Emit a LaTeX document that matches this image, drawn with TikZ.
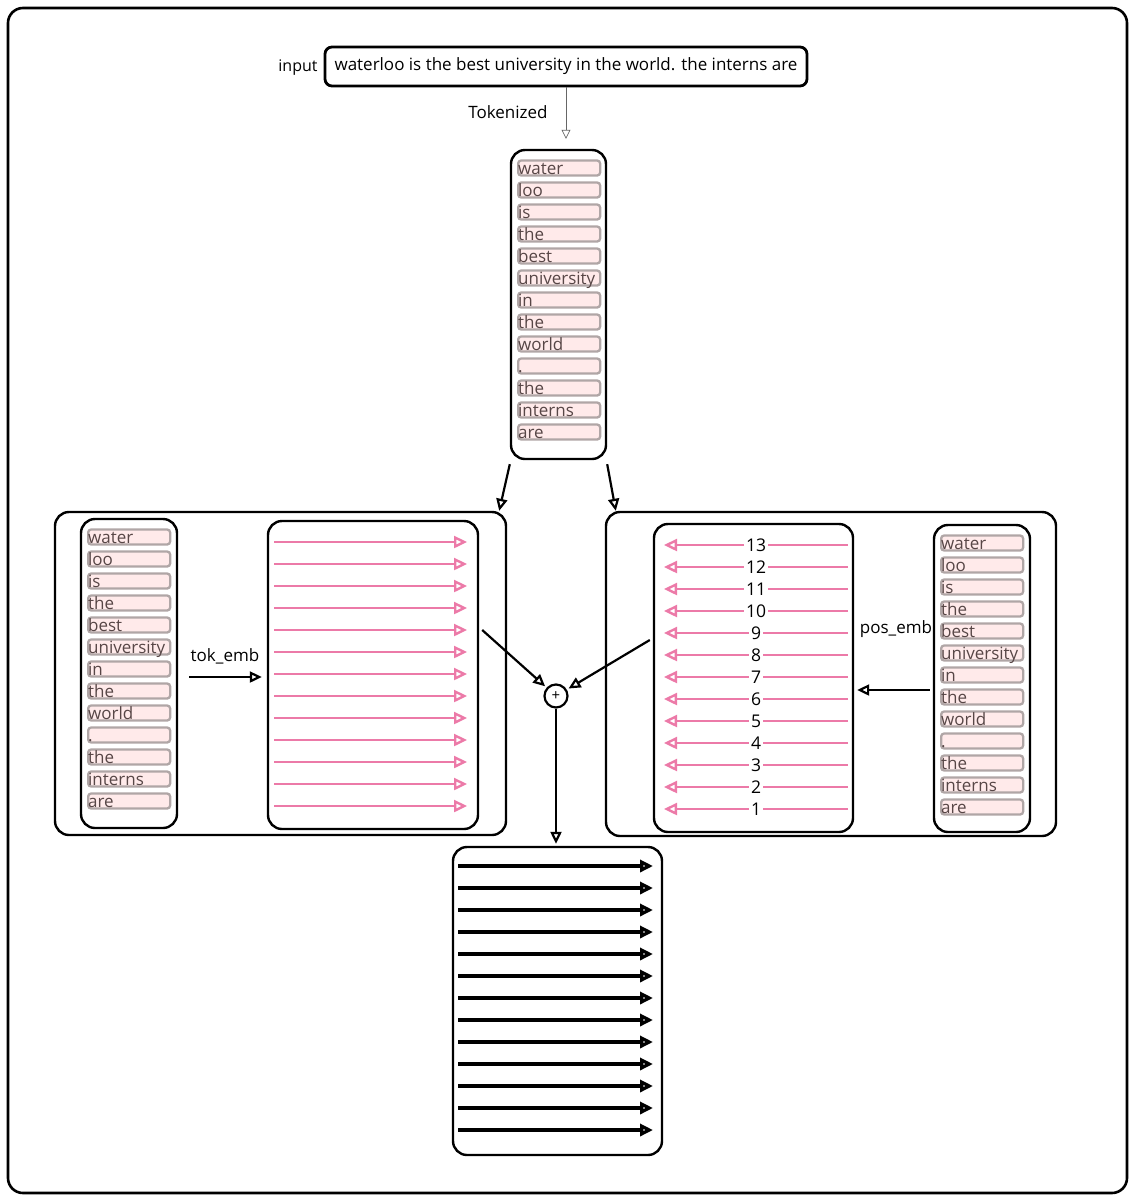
\documentclass[tikz,border=0pt]{standalone}
\usepackage{fontspec}
\setmainfont{Open Sans}
\usetikzlibrary{arrows.meta,positioning}

\definecolor{pinkline}{HTML}{EC7AA8}
\definecolor{tokfill}{HTML}{FFEAEA}
\definecolor{tokedge}{HTML}{B0A6A6}
\definecolor{toktext}{HTML}{574646}

\tikzset{
  panel/.style={draw=black,line width=2.4pt,rounded corners=14pt,inner sep=0pt},
  tok/.style={draw=tokedge,fill=tokfill,line width=2.3pt,rounded corners=3pt,anchor=west,
    minimum width=81pt,minimum height=15pt,inner sep=0pt,text width=82pt,align=left,
    text height=12.5pt,text depth=0pt,text=toktext,font=\fontsize{17}{17}\selectfont},
  arr/.style={-{Triangle[open,length=12pt,width=11pt]},line width=2.2pt},
  pinkarr/.style={-{Triangle[open,length=13pt,width=12pt]},line width=2.4pt,draw=pinkline},
  thickarr/.style={-{Triangle[open,length=13pt,width=12pt]},line width=3.8pt},
  lbl/.style={font=\fontsize{17}{19}\selectfont,inner sep=1pt}
}

\begin{document}
\begin{tikzpicture}[x=1pt,y=-1pt]
\useasboundingbox (0,0) rectangle (1134,1200);
\draw[line width=2.6pt,rounded corners=15pt] (8,8) rectangle (1127,1193);

% input text and tokens
\node[panel,rounded corners=7pt,line width=2.8pt,minimum width=482pt,minimum height=39pt,
  font=\fontsize{17}{19}\selectfont] (inbox) at (566,66.5)
  {waterloo is the best university in the world. the interns are};
\node[lbl,font=\fontsize{16}{18}\selectfont] (inlbl) at (298,68) {input};
\node[panel] (tokbox) at (558.5,304.5) [minimum width=95pt,minimum height=309pt] {};
\draw[-{Triangle[open,length=9pt,width=9pt]},line width=0.7pt,draw=black!60,shorten >=10pt]
  (inbox.south) -- (inbox.south |- tokbox.north);
\node[lbl] (toklbl) at (508,112) {Tokenized};

% the two embedding panels
\node[panel] (lbox) at (280.5,673.5) [minimum width=451pt,minimum height=323pt] {};
\node[panel] (ltok) at (129,673.5) [minimum width=96pt,minimum height=309pt] {};
\node[panel] (lemb) at (373,675) [minimum width=210pt,minimum height=308pt] {};
\node[panel] (rbox) at (831,674) [minimum width=450pt,minimum height=324pt] {};
\node[panel] (rpos) at (753.5,678) [minimum width=199pt,minimum height=308pt] {};
\node[panel] (rtok) at (982,678.5) [minimum width=96pt,minimum height=307pt] {};
\node[panel] (outbox) at (557.5,1001) [minimum width=209pt,minimum height=308pt] {};
\node[draw,circle,line width=2.2pt,minimum size=23pt,inner sep=0pt,font=\fontsize{15}{15}\selectfont]
  (plus) at (556,696) {+};

\foreach \sx/\sy/\sn in {517/168/c,87/537/l,940/543/r} {
  \foreach \w [count=\i] in {water,loo,is,the,best,university,in,the,world,.,the,interns,are} {
    \node[tok] (\sn\i) at (\sx,\sy+22*\i-22) {\w};
  }
}

% embedding rows
\foreach \k in {0,...,12} {
  \draw[pinkarr] (274,542+22*\k) -- (467,542+22*\k);
  \draw[thickarr] (458,866+22*\k) -- (653,866+22*\k);
}
\foreach \k [evaluate=\k as \n using int(13-\k)] in {0,...,12} {
  \draw[pinkarr] (848,545+22*\k) -- (664,545+22*\k);
  \node[fill=white,inner xsep=2pt,inner ysep=0pt,font=\fontsize{17.5}{17.5}\selectfont]
    (num\n) at (756,545+22*\k) {\n};
}

% connectors
\draw[arr] ([yshift=-4pt]tokbox.south west) -- ([xshift=-8pt]lbox.north east);
\draw[arr] ([yshift=-4pt]tokbox.south east) -- ([xshift=11pt]rbox.north west);
\draw[arr] ([xshift=11pt,yshift=-3.5pt]ltok.east) -- ([xshift=-5pt,yshift=-2pt]lemb.west);
\node[lbl] (toklbl2) at (225,656) {tok\_emb};
\draw[arr] ([xshift=-3pt,yshift=-11.5pt]rtok.west) -- ([xshift=3pt,yshift=-12pt]rpos.east);
\node[lbl] (poslbl) at (896,629) {pos\_emb};
\draw[arr,shorten >=2pt] ([xshift=3pt,yshift=45pt]lemb.east) -- (plus);
\draw[arr,shorten >=2pt] ([xshift=-3pt,yshift=38pt]rpos.west) -- (plus);
\draw[arr,shorten >=2pt] (plus.south) -- (plus.south |- outbox.north);
\end{tikzpicture}
\end{document}
